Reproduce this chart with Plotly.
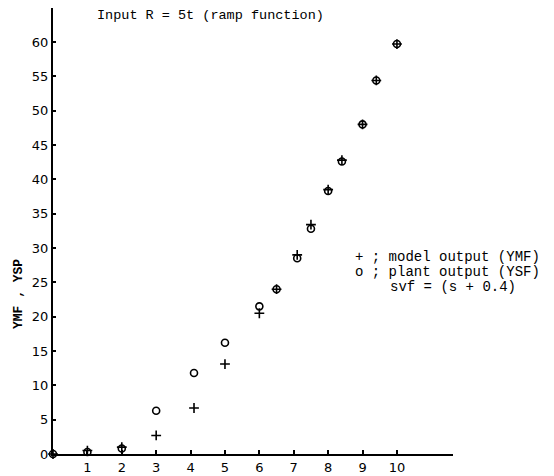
import plotly.graph_objects as go

# Data
t_plant = [0, 1, 2, 3, 4.1, 5, 6, 6.5, 7.1, 7.5, 8.0, 8.4, 9.0, 9.4, 10.0]
y_plant = [0, 0.3, 0.8, 6.3, 11.8, 16.2, 21.5, 24.0, 28.5, 32.8, 38.3, 42.6, 48.0, 54.4, 59.7]
t_model = [0, 1, 2, 3, 4.1, 5, 6, 6.5, 7.1, 7.5, 8.0, 8.4, 9.0, 9.4, 10.0]
y_model = [0, 0.5, 1.0, 2.7, 6.7, 13.1, 20.5, 24.0, 29.0, 33.4, 38.5, 42.8, 48.0, 54.4, 59.7]

x_ticks = [1, 2, 3, 4, 5, 6, 7, 8, 9, 10]
y_ticks = [0, 5, 10, 15, 20, 25, 30, 35, 40, 45, 50, 55, 60]

mono = "Liberation Mono"
sans = "DejaVu Sans"

fig = go.Figure()
fig.add_trace(go.Scatter(
    x=t_plant, y=y_plant, mode="markers", name="plant output (YSF)",
    marker=dict(symbol="circle-open", size=7, color="black", line=dict(width=1.6)),
    cliponaxis=False, showlegend=False,
))
fig.add_trace(go.Scatter(
    x=t_model, y=y_model, mode="markers", name="model output (YMF)",
    marker=dict(symbol="cross-thin", size=7, color="black", line=dict(width=1.6, color="black")),
    cliponaxis=False, showlegend=False,
))

fig.update_layout(
    width=546, height=468,
    margin=dict(l=45, r=101, t=0, b=22),
    paper_bgcolor="white", plot_bgcolor="white",
    xaxis=dict(
        range=[0, 11.63], showgrid=False, zeroline=False, automargin=False,
        showline=True, linecolor="black", linewidth=2,
        tickvals=x_ticks, ticktext=[str(v) for v in x_ticks],
        ticks="inside", ticklen=4, tickwidth=1.5, tickcolor="black",
        tickfont=dict(family=sans, size=13, color="black"),
    ),
    yaxis=dict(
        range=[0, 64.95], showgrid=False, zeroline=False, automargin=False,
        showline=True, linecolor="black", linewidth=2,
        tickvals=y_ticks, ticktext=[str(v) for v in y_ticks],
        ticks="inside", ticklen=3, tickwidth=1.5, tickcolor="black",
        tickfont=dict(family=sans, size=13, color="black"),
    ),
    annotations=[
        dict(text="Input R = 5t (ramp function)", x=1.22, y=63.9, xref="x", yref="y",
             xanchor="left", yanchor="middle", showarrow=False,
             font=dict(family=mono, size=13.5, color="black")),
        dict(text="+ ; model output (YMF)", x=8.72, y=28.7, xref="x", yref="y",
             xanchor="left", yanchor="middle", showarrow=False,
             font=dict(family=mono, size=14, color="black")),
        dict(text="o ; plant output (YSF)", x=8.72, y=26.5, xref="x", yref="y",
             xanchor="left", yanchor="middle", showarrow=False,
             font=dict(family=mono, size=14, color="black")),
        dict(text="svf = (s + 0.4)", x=9.75, y=24.3, xref="x", yref="y",
             xanchor="left", yanchor="middle", showarrow=False,
             font=dict(family=mono, size=14, color="black")),
        dict(text="t (sec)", x=10.09, y=-1.2, xref="x", yref="y",
             xanchor="left", yanchor="middle", showarrow=False,
             font=dict(family=mono, size=14, color="black")),
        dict(text="<b>YMF , YSP</b>", x=-0.0875, y=0.3586, xref="paper", yref="paper",
             xanchor="center", yanchor="middle", showarrow=False, textangle=-90,
             font=dict(family=mono, size=13, color="black")),
    ],
)

fig.write_html("out.html")
